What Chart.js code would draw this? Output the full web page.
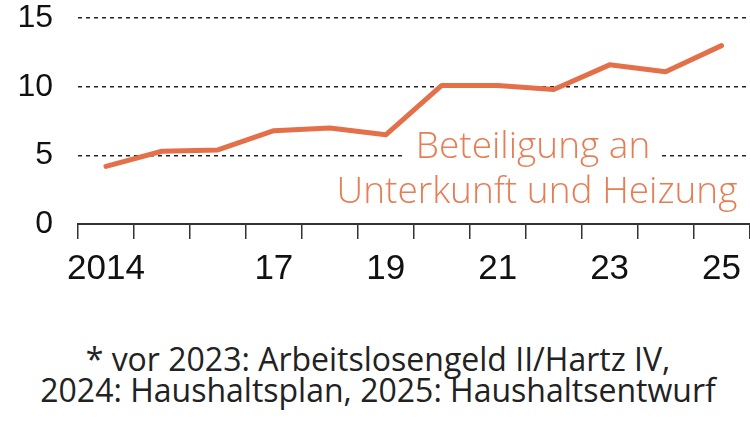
<!DOCTYPE html>
<html>
<head>
<meta charset="utf-8">
<script src="https://cdn.jsdelivr.net/npm/chart.js@4"></script>
<style>
  html, body { margin: 0; padding: 0; background: #fff; }
  #wrap { position: relative; width: 750px; height: 421px; overflow: hidden; }
  #chartBox { position: absolute; left: 0; top: -26px; width: 750px; height: 325px; }
  #note {
    position: absolute; left: 0; top: 343px; width: 756px; text-align: center;
    font-family: "Open Sans", sans-serif; font-size: 32px; line-height: 31px; color: #222;
  }
</style>
</head>
<body>
<div id="wrap">
  <div id="chartBox"><canvas id="kduChart"></canvas></div>
  <div id="note">* vor 2023: Arbeitslosengeld II/Hartz IV,<br>2024: Haushaltsplan, 2025: Haushaltsentwurf</div>
</div>
<script>
// Jahre und Werte (Mrd. Euro)
const jahre = ['2014', '2015', '2016', '2017', '2018', '2019', '2020', '2021', '2022', '2023', '2024', '2025'];
const tickLabels = ['2014', '', '', '17', '', '19', '', '21', '', '23', '', '25'];
const beteiligung = [4.2, 5.3, 5.4, 6.8, 7.0, 6.5, 10.1, 10.1, 9.8, 11.6, 11.1, 13.0];
const yTicks = [0, 5, 10, 15];

// Beschriftung der Linie direkt im Diagramm (Canvas liegt 26px höher)
const labelPlugin = {
    id: 'labelPlugin',
    afterDatasetsDraw(chart) {
        const c = chart.ctx;
        const dy = 26;
        c.save();
        c.font = '300 37px "Open Sans", sans-serif';
        c.textAlign = 'center';
        c.textBaseline = 'alphabetic';
        const w = c.measureText('Beteiligung an').width;
        c.fillStyle = '#fff';
        c.fillRect(533 - w / 2 - 10, 130 + dy, w + 20, 36);
        c.fillStyle = '#e67d55';
        c.fillText('Beteiligung an', 533, 158 + dy);
        c.fillText('Unterkunft und Heizung', 537, 203 + dy);
        c.restore();
    }
};

const ctx = document.getElementById('kduChart').getContext('2d');
const kduChart = new Chart(ctx, {
    type: 'line',
    data: {
        labels: jahre,
        datasets: [{
            data: beteiligung,
            borderColor: '#e4704a',
            borderWidth: 5,
            pointRadius: 0,
            tension: 0,
            borderJoinStyle: 'round',
            borderCapStyle: 'round'
        }]
    },
    options: {
        responsive: true,
        maintainAspectRatio: false,
        animation: false,
        plugins: { legend: { display: false }, tooltip: { enabled: false } },
        scales: {
            x: {
                offset: true,
                grid: {
                    offset: true,
                    drawOnChartArea: false,
                    drawTicks: true,
                    tickLength: 15,
                    color: '#333',
                    lineWidth: 1.5
                },
                border: { display: true, color: '#333', width: 2 },
                ticks: {
                    autoSkip: false,
                    maxRotation: 0,
                    padding: 9,
                    color: '#111',
                    font: { family: 'Liberation Sans', size: 35 },
                    callback: (v, i) => tickLabels[i]
                }
            },
            y: {
                min: 0,
                max: 15,
                afterFit(scale) { scale.width = 78; },
                afterBuildTicks(scale) { scale.ticks = yTicks.map(v => ({ value: v })); },
                grid: {
                    drawTicks: false,
                    color: ctx => ctx.tick && ctx.tick.value === 0 ? 'rgba(0,0,0,0)' : '#222',
                    lineWidth: 1.5
                },
                border: { display: false, dash: [4, 4] },
                ticks: {
                    padding: 25,
                    color: '#111',
                    font: { family: 'Liberation Sans', size: 32 }
                }
            }
        }
    },
    plugins: [labelPlugin]
});
</script>
</body>
</html>
